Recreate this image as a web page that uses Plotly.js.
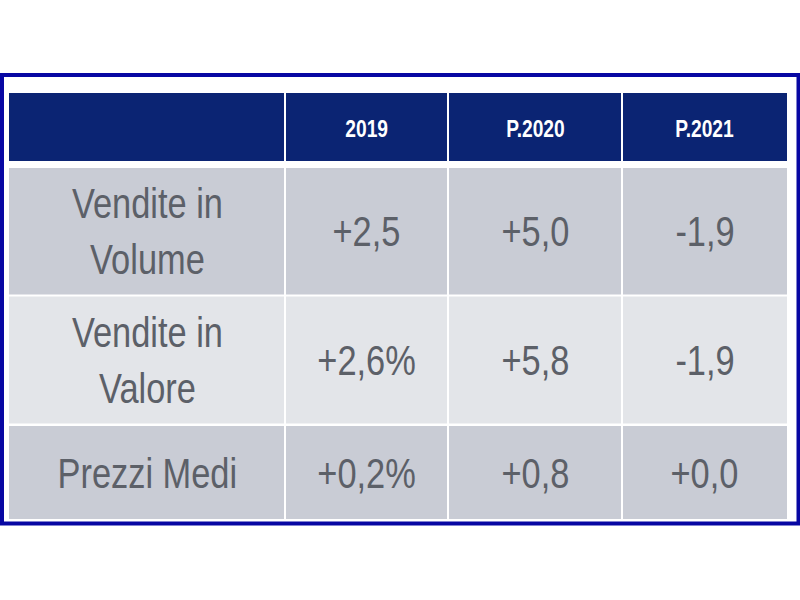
<!DOCTYPE html>
<html>
<head>
<meta charset="utf-8">
<script src="https://cdn.plot.ly/plotly-3.0.1.min.js"></script>
<style>html,body{margin:0;padding:0;background:#fff;}#chart{width:800px;height:600px;}</style>
</head>
<body>
<div id="chart"></div>
<script>
// ---- data ----
var columnHeaders = ["", "2019", "P.2020", "P.2021"];
var rowLabels = ["Vendite in<br>Volume", "Vendite in<br>Valore", "Prezzi Medi"];
var values2019 = ["+2,5", "+2,6%", "+0,2%"];
var valuesP2020 = ["+5,0", "+5,8", "+0,8"];
var valuesP2021 = ["-1,9", "-1,9", "+0,0"];

// ---- layout geometry (pixel-like axis units) ----
var colEdges = [9, 285, 448, 622, 787];
var headerBand = [93, 161];
var rowBands = [[168, 294.5], [296.5, 423.5], [426, 519]];
var gap = 1;
var navy = "#0b2473";
var rowFills = ["#c9ccd5", "#e3e5e9", "#c9ccd5"];
var textColor = "#5c6068";
var fontFam = "Liberation Sans, Arial, sans-serif";
var condense = 0.8;

var columns = [rowLabels, values2019, valuesP2020, valuesP2021];

var shapes = [];
var annotations = [];

// outer frame
shapes.push({type: "rect", xref: "x", yref: "y", x0: 2, x1: 798.5, y0: 75, y1: 523.5,
  line: {color: "#0707a3", width: 4}, fillcolor: "rgba(0,0,0,0)", layer: "above"});

for (var c = 0; c < columnHeaders.length; c++) {
  var x0 = colEdges[c] + (c > 0 ? gap : 0);
  var x1 = colEdges[c + 1] - (c < columnHeaders.length - 1 ? gap : 0);
  var xc = (colEdges[c] + colEdges[c + 1]) / 2;
  shapes.push({type: "rect", xref: "x", yref: "y", x0: x0, x1: x1, y0: headerBand[0], y1: headerBand[1],
    fillcolor: navy, line: {width: 0}, layer: "below"});
  if (columnHeaders[c]) {
    annotations.push({xref: "x", yref: "y", x: xc, y: (headerBand[0] + headerBand[1]) / 2 + 1,
      text: "<b>" + columnHeaders[c] + "</b>", showarrow: false, xanchor: "center", yanchor: "middle",
      font: {family: fontFam, size: 24, color: "#ffffff"}});
  }
  for (var r = 0; r < rowBands.length; r++) {
    shapes.push({type: "rect", xref: "x", yref: "y", x0: x0, x1: x1, y0: rowBands[r][0], y1: rowBands[r][1],
      fillcolor: rowFills[r], line: {width: 0}, layer: "below"});
    annotations.push({xref: "x", yref: "y", x: xc, y: (rowBands[r][0] + rowBands[r][1]) / 2,
      text: columns[c][r], showarrow: false, xanchor: "center", yanchor: "middle",
      font: {family: fontFam, size: 43, color: textColor}});
  }
}

var layout = {
  width: 800, height: 600,
  margin: {l: 0, r: 0, t: 0, b: 0, pad: 0},
  paper_bgcolor: "#ffffff", plot_bgcolor: "#ffffff",
  xaxis: {range: [0, 800], visible: false, fixedrange: true},
  yaxis: {range: [600, 0], visible: false, fixedrange: true},
  showlegend: false,
  shapes: shapes,
  annotations: annotations
};

Plotly.newPlot("chart", [], layout, {displayModeBar: false, staticPlot: true}).then(function (gd) {
  // emulate the condensed (Arial Narrow-like) typeface by compressing text horizontally
  var texts = gd.querySelectorAll("text.annotation-text");
  texts.forEach(function (t) {
    var bb = t.getBBox();
    var cx = bb.x + bb.width / 2;
    t.setAttribute("transform", "translate(" + cx + ",0) scale(" + condense + ",1) translate(" + (-cx) + ",0)");
  });
});
</script>
</body>
</html>
